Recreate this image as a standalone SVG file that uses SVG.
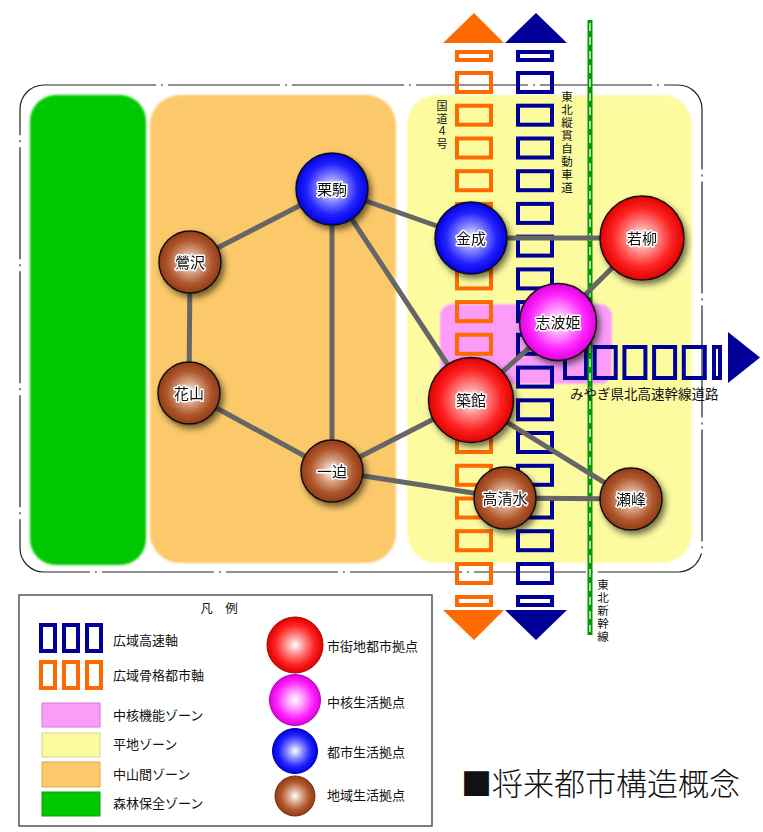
<svg xmlns="http://www.w3.org/2000/svg" width="763" height="832" viewBox="0 0 763 832">
  <defs>
    <style>
      text { font-family: "Noto Sans CJK JP", "Noto Sans CJK SC", sans-serif; fill: #111; }
      .node-label { font-size: 15px; text-anchor: middle; stroke: #fff; stroke-width: 3px; paint-order: stroke; stroke-linejoin: round; }
      .legend-label { font-size: 13px; }
      .vlabel { text-anchor: middle; }
      .orange-box { fill: none; stroke: #ff6a00; stroke-width: 4; }
      .blue-box { fill: none; stroke: #000099; stroke-width: 4; }
      .connector { stroke: #666; stroke-width: 5; stroke-linecap: round; fill: none; }
      .node-ring { stroke: #111; stroke-width: 1.5; }
    </style>
    <filter id="soft" x="-5%" y="-5%" width="110%" height="110%">
      <feGaussianBlur stdDeviation="1.3"/>
    </filter>
    <filter id="shadow" x="-40%" y="-40%" width="180%" height="180%">
      <feDropShadow dx="3" dy="4" stdDeviation="3" flood-color="#000" flood-opacity="0.55"/>
    </filter>
    <radialGradient id="gRed" cx="50%" cy="50%" r="50%">
      <stop offset="0" stop-color="#ffffff"/>
      <stop offset="0.35" stop-color="#ff8a8a"/>
      <stop offset="0.7" stop-color="#ff2424"/>
      <stop offset="1" stop-color="#e00000"/>
    </radialGradient>
    <radialGradient id="gBlue" cx="50%" cy="50%" r="50%">
      <stop offset="0" stop-color="#ffffff"/>
      <stop offset="0.35" stop-color="#8a8aff"/>
      <stop offset="0.7" stop-color="#2424ff"/>
      <stop offset="1" stop-color="#0000e0"/>
    </radialGradient>
    <radialGradient id="gMagenta" cx="50%" cy="50%" r="50%">
      <stop offset="0" stop-color="#ffffff"/>
      <stop offset="0.35" stop-color="#ff9aff"/>
      <stop offset="0.7" stop-color="#ff28ff"/>
      <stop offset="1" stop-color="#e000e0"/>
    </radialGradient>
    <radialGradient id="gBrown" cx="50%" cy="50%" r="50%">
      <stop offset="0" stop-color="#ffffff"/>
      <stop offset="0.35" stop-color="#d9a487"/>
      <stop offset="0.7" stop-color="#b0582e"/>
      <stop offset="1" stop-color="#923b15"/>
    </radialGradient>
  </defs>

  <rect width="763" height="832" fill="#fff"/>

  <!-- planning area boundary (dash-dot) -->
  <rect x="20" y="85" width="682" height="487" rx="24" fill="none" stroke="#222" stroke-width="1.2" stroke-dasharray="112 5 2 5"/>

  <!-- land-use zones -->
  <g id="zones" filter="url(#soft)">
    <rect id="zone-forest" x="30" y="95" width="116" height="470" rx="26" fill="#00c800"/>
    <rect id="zone-hills" x="150" y="95" width="246" height="468" rx="30" fill="#fbc96a"/>
    <rect id="zone-plain" x="407" y="95" width="285" height="468" rx="30" fill="#fcfba0"/>
    <rect id="zone-core" x="440" y="304" width="172" height="80" rx="12" fill="#fb9cf8"/>
  </g>

  <!-- National Route 4 (orange axis) -->
  <g id="axis-route4">
    <polygon points="443,43 504,43 474,13" fill="#ff6a00"/>
    <polygon points="443,610 504,610 474,640" fill="#ff6a00"/>
    <rect class="orange-box" x="457" y="52" width="34" height="8"/>
    <rect class="orange-box" x="457" y="73" width="34" height="19"/>
    <rect class="orange-box" x="457" y="105.7" width="34" height="19"/>
    <rect class="orange-box" x="457" y="138.5" width="34" height="19"/>
    <rect class="orange-box" x="457" y="171.2" width="34" height="19"/>
    <rect class="orange-box" x="457" y="203.9" width="34" height="19"/>
    <rect class="orange-box" x="457" y="236.6" width="34" height="19"/>
    <rect class="orange-box" x="457" y="269.4" width="34" height="19"/>
    <rect class="orange-box" x="457" y="302.1" width="34" height="19"/>
    <rect class="orange-box" x="457" y="334.8" width="34" height="19"/>
    <rect class="orange-box" x="457" y="367.6" width="34" height="19"/>
    <rect class="orange-box" x="457" y="400.3" width="34" height="19"/>
    <rect class="orange-box" x="457" y="433" width="34" height="19"/>
    <rect class="orange-box" x="457" y="465.8" width="34" height="19"/>
    <rect class="orange-box" x="457" y="498.5" width="34" height="19"/>
    <rect class="orange-box" x="457" y="531.2" width="34" height="19"/>
    <rect class="orange-box" x="457" y="564" width="34" height="19"/>
    <rect class="orange-box" x="457" y="597" width="34" height="8"/>
  </g>

  <!-- Tohoku Expressway (blue axis) -->
  <g id="axis-expressway">
    <polygon points="505,43 567,43 536,13" fill="#000099"/>
    <polygon points="505,610 567,610 536,640" fill="#000099"/>
    <rect class="blue-box" x="518" y="52" width="34" height="8"/>
    <rect class="blue-box" x="518" y="73" width="34" height="19"/>
    <rect class="blue-box" x="518" y="105.7" width="34" height="19"/>
    <rect class="blue-box" x="518" y="138.5" width="34" height="19"/>
    <rect class="blue-box" x="518" y="171.2" width="34" height="19"/>
    <rect class="blue-box" x="518" y="203.9" width="34" height="19"/>
    <rect class="blue-box" x="518" y="236.6" width="34" height="19"/>
    <rect class="blue-box" x="518" y="269.4" width="34" height="19"/>
    <rect class="blue-box" x="518" y="302.1" width="34" height="19"/>
    <rect class="blue-box" x="518" y="334.8" width="34" height="19"/>
    <rect class="blue-box" x="518" y="367.6" width="34" height="19"/>
    <rect class="blue-box" x="518" y="400.3" width="34" height="19"/>
    <rect class="blue-box" x="518" y="433" width="34" height="19"/>
    <rect class="blue-box" x="518" y="465.8" width="34" height="19"/>
    <rect class="blue-box" x="518" y="498.5" width="34" height="19"/>
    <rect class="blue-box" x="518" y="531.2" width="34" height="19"/>
    <rect class="blue-box" x="518" y="564" width="34" height="19"/>
    <rect class="blue-box" x="518" y="597" width="34" height="8"/>
  </g>

  <!-- Miyagi north high-standard road (horizontal blue axis) -->
  <g id="axis-miyagi">
    <rect class="blue-box" x="565" y="347" width="21" height="31"/>
    <rect class="blue-box" x="594.7" y="347" width="21" height="31"/>
    <rect class="blue-box" x="624.4" y="347" width="21" height="31"/>
    <rect class="blue-box" x="654.1" y="347" width="21" height="31"/>
    <rect class="blue-box" x="683.8" y="347" width="21" height="31"/>
    <rect class="blue-box" x="714" y="347" width="6" height="31"/>
    <polygon points="728,332 728,383 760,357.5" fill="#000099"/>
  </g>

  <!-- Tohoku Shinkansen -->
  <g id="shinkansen">
    <line x1="590" y1="20" x2="590" y2="635" stroke="#009900" stroke-width="5"/>
    <line x1="590" y1="23" x2="590" y2="632" stroke="#fff" stroke-width="1.3" stroke-dasharray="8 6"/>
  </g>

  <!-- route labels, one glyph per position down a column -->
  <text class="vlabel" style="font-size:11px" x="442 442 442 442" y="110 122.5 135 147.5">国道４号</text>
  <text class="vlabel" style="font-size:11.5px" x="567 567 567 567 567 567 567 567" y="100.5 113.5 126.5 139.5 152.5 165.5 178.5 191.5">東北縦貫自動車道</text>
  <text class="vlabel" style="font-size:11.5px" x="603 603 603 603 603" y="588.5 601.5 614.5 627.5 640.5">東北新幹線</text>
  <text x="570" y="399" style="font-size:13.5px">みやぎ県北高速幹線道路</text>

  <!-- connectors between hubs -->
  <g id="connectors">
    <line class="connector" x1="332" y1="189" x2="190" y2="262"/>
    <line class="connector" x1="190" y1="262" x2="189" y2="393"/>
    <line class="connector" x1="189" y1="393" x2="332" y2="471"/>
    <line class="connector" x1="332" y1="189" x2="332" y2="471"/>
    <line class="connector" x1="332" y1="189" x2="471" y2="400"/>
    <line class="connector" x1="332" y1="189" x2="471" y2="238"/>
    <line class="connector" x1="471" y1="238" x2="642" y2="238"/>
    <line class="connector" x1="332" y1="471" x2="471" y2="400"/>
    <line class="connector" x1="332" y1="471" x2="505" y2="498"/>
    <line class="connector" x1="471" y1="400" x2="558" y2="322"/>
    <line class="connector" x1="558" y1="322" x2="642" y2="238"/>
    <line class="connector" x1="471" y1="400" x2="631" y2="499"/>
    <line class="connector" x1="505" y1="498" x2="631" y2="499"/>
  </g>

  <!-- hubs -->
  <g id="node-kurikoma" filter="url(#shadow)">
    <circle class="node-ring" cx="332" cy="189" r="36" fill="url(#gBlue)"/>
    <text class="node-label" x="332" y="194.5">栗駒</text>
  </g>
  <g id="node-kannari" filter="url(#shadow)">
    <circle class="node-ring" cx="471" cy="238" r="36" fill="url(#gBlue)"/>
    <text class="node-label" x="471" y="243.5">金成</text>
  </g>
  <g id="node-wakayanagi" filter="url(#shadow)">
    <circle class="node-ring" cx="642" cy="238" r="42" fill="url(#gRed)"/>
    <text class="node-label" x="642" y="243.5">若柳</text>
  </g>
  <g id="node-shiwahime" filter="url(#shadow)">
    <circle class="node-ring" cx="558" cy="322" r="38.5" fill="url(#gMagenta)"/>
    <text class="node-label" x="558" y="327.5">志波姫</text>
  </g>
  <g id="node-tsukidate" filter="url(#shadow)">
    <circle class="node-ring" cx="471" cy="400" r="42.5" fill="url(#gRed)"/>
    <text class="node-label" x="471" y="405.5">築館</text>
  </g>
  <g id="node-uguisuzawa" filter="url(#shadow)">
    <circle class="node-ring" cx="190" cy="262" r="31" fill="url(#gBrown)"/>
    <text class="node-label" x="190" y="267.5">鶯沢</text>
  </g>
  <g id="node-hanayama" filter="url(#shadow)">
    <circle class="node-ring" cx="189" cy="393" r="31" fill="url(#gBrown)"/>
    <text class="node-label" x="189" y="398.5">花山</text>
  </g>
  <g id="node-ichihasama" filter="url(#shadow)">
    <circle class="node-ring" cx="332" cy="471" r="31" fill="url(#gBrown)"/>
    <text class="node-label" x="332" y="476.5">一迫</text>
  </g>
  <g id="node-takashimizu" filter="url(#shadow)">
    <circle class="node-ring" cx="505" cy="498" r="31" fill="url(#gBrown)"/>
    <text class="node-label" x="505" y="503.5">高清水</text>
  </g>
  <g id="node-semine" filter="url(#shadow)">
    <circle class="node-ring" cx="631" cy="499" r="31" fill="url(#gBrown)"/>
    <text class="node-label" x="631" y="504.5">瀬峰</text>
  </g>

  <!-- legend -->
  <g id="legend">
    <rect x="19" y="595" width="413" height="231" fill="#fff" stroke="#555" stroke-width="1.5"/>
    <text x="219" y="613" style="font-size:12.5px" text-anchor="middle">凡　例</text>

    <rect class="blue-box" x="41" y="625" width="14" height="26"/>
    <rect class="blue-box" x="64" y="625" width="14" height="26"/>
    <rect class="blue-box" x="87" y="625" width="14" height="26"/>
    <text class="legend-label" x="113" y="645">広域高速軸</text>

    <rect class="orange-box" x="41" y="662" width="14" height="26"/>
    <rect class="orange-box" x="64" y="662" width="14" height="26"/>
    <rect class="orange-box" x="87" y="662" width="14" height="26"/>
    <text class="legend-label" x="113" y="680">広域骨格都市軸</text>

    <rect x="42" y="703" width="58" height="24" fill="#fb9cf8" stroke="#d27bd0" stroke-width="1"/>
    <text class="legend-label" x="113" y="720">中核機能ゾーン</text>
    <rect x="42" y="733" width="58" height="24" fill="#fcfba0" stroke="#d8d68a" stroke-width="1"/>
    <text class="legend-label" x="113" y="749">平地ゾーン</text>
    <rect x="42" y="762" width="58" height="25" fill="#fbc96a" stroke="#e0a850" stroke-width="1"/>
    <text class="legend-label" x="113" y="779">中山間ゾーン</text>
    <rect x="42" y="792" width="58" height="24" fill="#00c800" stroke="#119911" stroke-width="1"/>
    <text class="legend-label" x="113" y="808">森林保全ゾーン</text>

    <circle cx="295" cy="645" r="28" fill="url(#gRed)" stroke="#b00000" stroke-width="1"/>
    <text class="legend-label" x="327" y="651">市街地都市拠点</text>
    <circle cx="295" cy="700" r="25.5" fill="url(#gMagenta)" stroke="#b000b0" stroke-width="1"/>
    <text class="legend-label" x="327" y="707">中核生活拠点</text>
    <circle cx="295" cy="751" r="22.5" fill="url(#gBlue)" stroke="#0000b0" stroke-width="1"/>
    <text class="legend-label" x="327" y="757">都市生活拠点</text>
    <circle cx="295" cy="796" r="20" fill="url(#gBrown)" stroke="#7a3010" stroke-width="1"/>
    <text class="legend-label" x="327" y="800">地域生活拠点</text>
  </g>

  <!-- title -->
  <text id="title" x="461" y="795" style="font-size:31px;font-weight:300">■将来都市構造概念</text>
</svg>
